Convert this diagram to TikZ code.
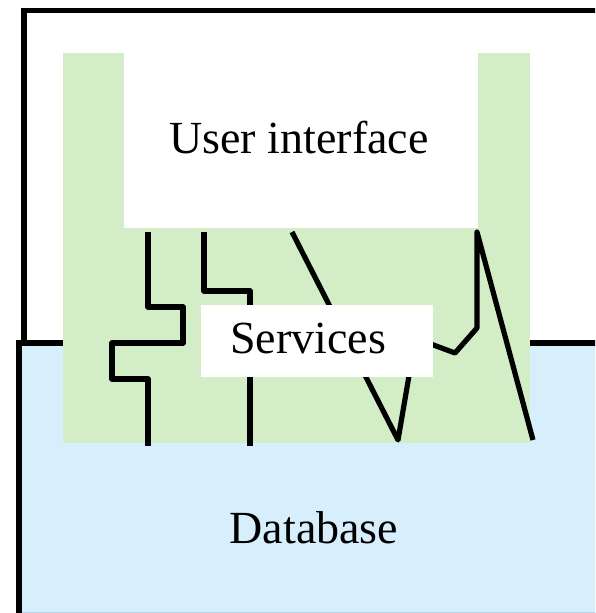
\documentclass[tikz,border=0pt]{standalone}
\usepackage{fontspec}
\setmainfont{Liberation Serif}
\definecolor{layergreen}{RGB}{211,237,199}
\definecolor{layerblue}{RGB}{215,238,252}
\definecolor{dbedge}{RGB}{185,212,232}
\begin{document}
\begin{tikzpicture}[x=1pt,y=-1pt,
  frame/.style={line width=5.2pt,line join=miter},
  wire/.style={line width=5.2pt,line join=round,line cap=butt},
  label/.style={font=\fontsize{46}{55}\selectfont,anchor=base,inner sep=0pt}]
\useasboundingbox (0,0) rectangle (595,613);
\clip (0,0) rectangle (595,613);
% outer white box
\draw[frame] (24,343) -- (24,10.5) -- (620,10.5);
% database layer
\fill[layerblue] (19,343) rectangle (620,613);
\draw[dbedge,line width=0.8pt] (19,612.6) -- (620,612.6);
\draw[frame] (19,613) -- (19,343) -- (620,343);
% services layer (green U)
\fill[layergreen] (63,53) rectangle (530,443);
\fill[white] (124,53) rectangle (478,228);
% connectors
\coordinate (a0) at (148,232);
\coordinate (a1) at (148,446);
\draw[wire] (a0) -- (148,307) -- (183,307) -- (183,343) -- (112,343) -- (112,379) -- (148,379) -- (a1);
\coordinate (b0) at (204,232);
\coordinate (b1) at (250,446);
\draw[wire] (b0) -- (204,291) -- (250,291) -- (b1);
\coordinate (c0) at (292,232);
\coordinate (c1) at (398,440);
\draw[wire] (c0) -- (c1) -- (410,370);
\coordinate (d0) at (420,340);
\coordinate (d1) at (533,440);
\draw[wire] (d0) -- (455,353) -- (477,328) -- (477,232) -- (d1);
% services box
\fill[white] (201,305) rectangle (433,377);
% labels
\node[label] (ui) at (299,153) {User interface};
\node[label] (svc) at (308,353) {Services};
\node[label] (db) at (314,543) {Database};
\end{tikzpicture}
\end{document}
